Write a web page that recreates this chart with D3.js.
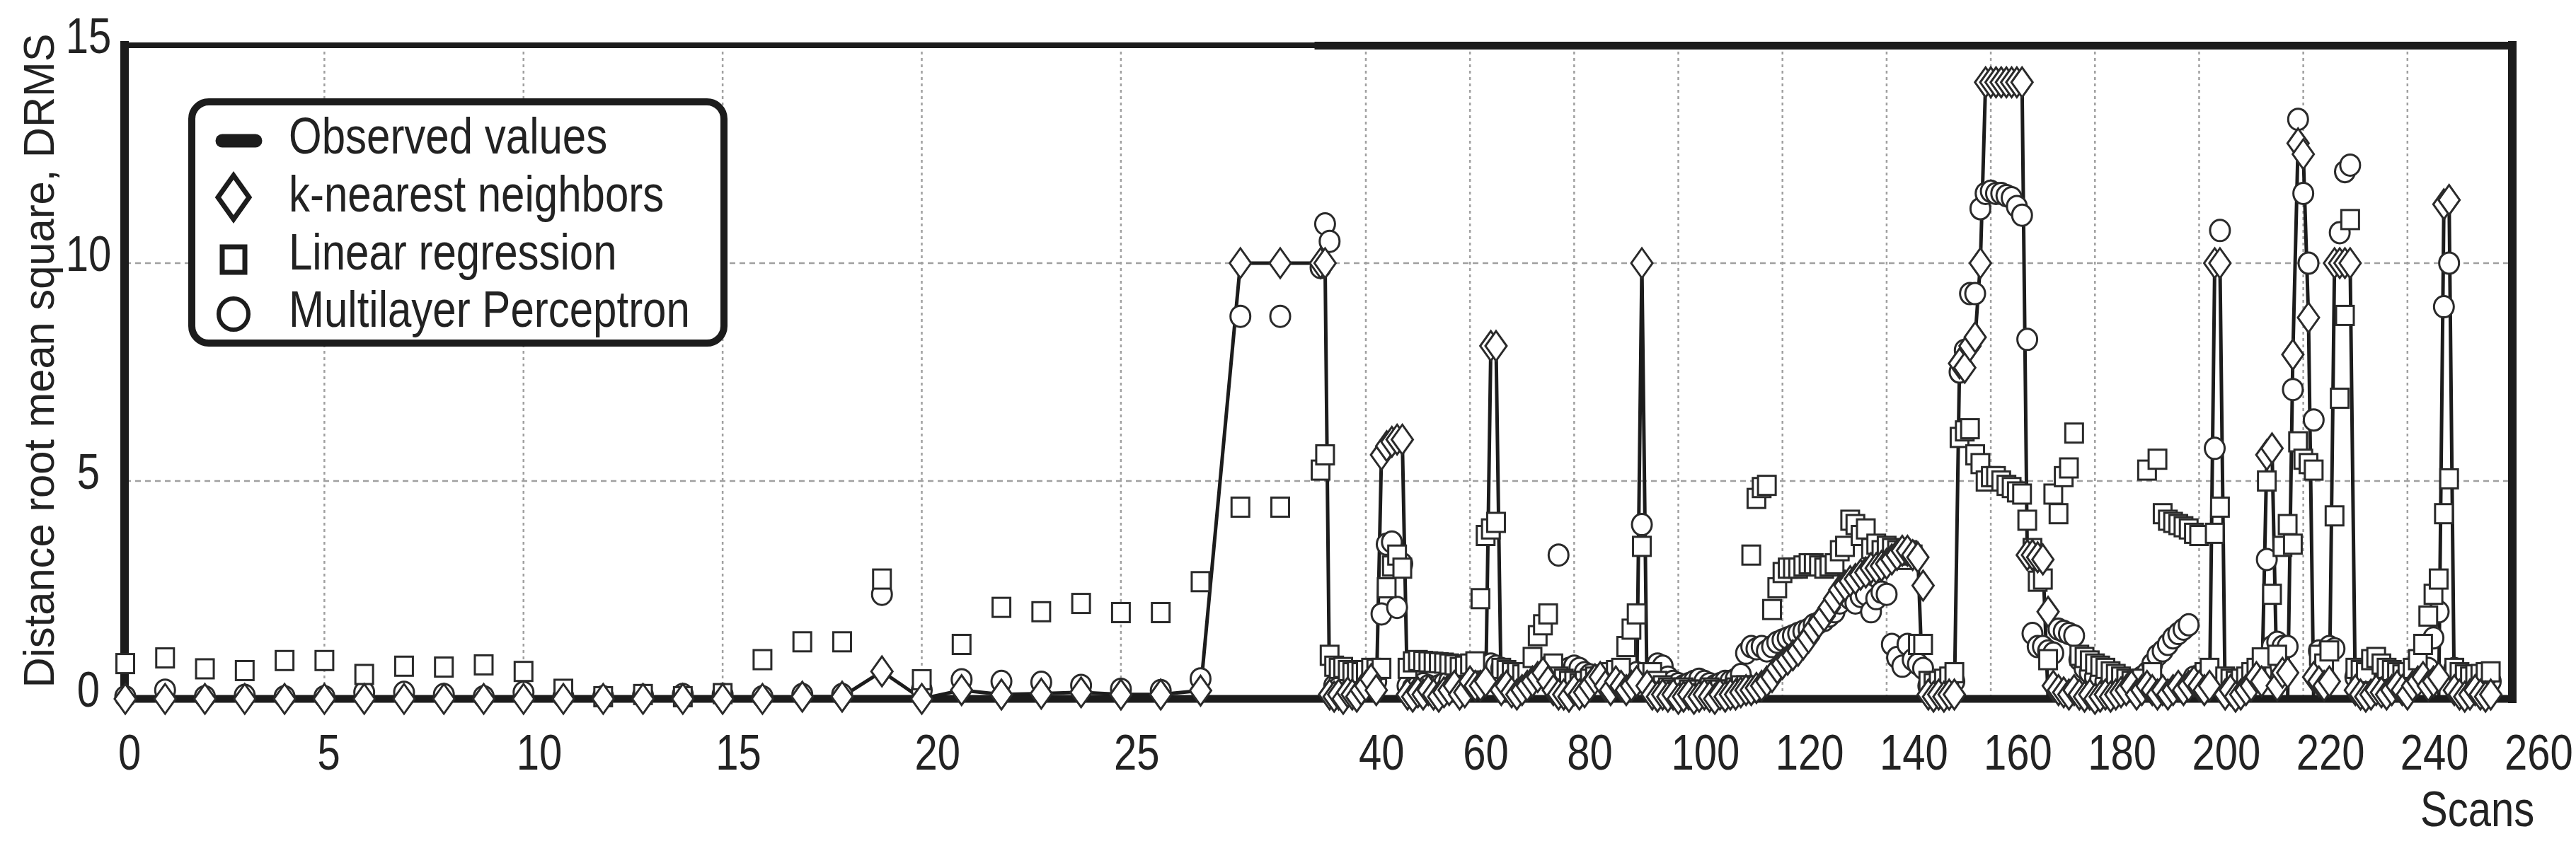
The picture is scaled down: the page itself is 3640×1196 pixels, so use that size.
<!DOCTYPE html>
<html><head><meta charset="utf-8">
<script src="https://cdnjs.cloudflare.com/ajax/libs/d3/7.8.5/d3.min.js"></script>
<style>
body{margin:0;background:#fff}
svg{display:block;background:#fff}
text{font-family:"Liberation Sans",Arial,Helvetica,sans-serif;fill:#222}
</style></head>
<body><svg id="c" width="3640" height="1196"></svg>
<script>
// ---- tick labels ----
const xTicks = [0,5,10,15,20,25,40,60,80,100,120,140,160,180,200,220,240,260];
const yTicks = [0,5,10,15];
const xLabel = "Scans";
const yLabel = "Distance root mean square, DRMS";
const legendLabels = ["Observed values","k-nearest neighbors","Linear regression","Multilayer Perceptron"];

// ---- series (index = scan number 0..256) ----
const observed = [
0,0,0,0,0,0,0,0,0,0,
0,0,0,0,0,0,0,0.05,0.05,0.63,
0,0.2,0.1,0.12,0.15,0.1,0.1,0.19,10,10,
10,10,0,0,0,0,0,0,0,0,
0,0,0,5.6,5.8,5.9,5.95,5.95,0,0,
0,0,0,0,0,0,0,0,0,0,
0,0,0,0,8.1,8.1,0,0,0,0,
0,0,0,0,0,0,0,0,0,0,
0,0,0,0,0,0,0,0,0,0,
0,0,0,10,0,0,0,0,0,0,
0,0,0,0,0,0,0,0,0,0,
0,0,0,0,0.1,0.1,0.2,0.3,0.4,0.6,
0.8,0.9,1.0,1.1,1.25,1.4,1.6,1.75,2.1,2.1,
2.3,2.5,2.6,2.7,2.75,2.85,2.9,3.0,3.0,3.05,
3.1,3.2,3.3,3.4,3.4,3.3,3.25,0,0,0,
0,0,0,0,7.7,7.6,8.1,8.3,10,14.15,
14.15,14.15,14.15,14.15,14.15,14.15,14.15,3.3,3.3,3.25,
3.2,0,0,0,0,0,0,0,0,0,
0,0,0,0,0,0,0,0,0,0,
0,0,0,0,0,0,0,0,0,0,
0,0,0,10,10,0,0,0,0,0,
0,0,0,5.6,5.75,0,0,0,7.9,12.75,
12.5,8.75,0,0,0,0,10,10,10,10,
0,0,0,0,0,0,0,0,0,0,
0,0,0,0,0,0,0,11.35,11.45,0,
0,0,0,0,0,0,0
];
const knn = [
0,0,0,0,0,0,0,0,0,0,
0,0,0,0,0,0,0,0.05,0.05,0.63,
0,0.2,0.1,0.12,0.15,0.1,0.1,0.19,10,10,
10,10,0.1,0.05,0.1,0,0.15,0.1,0.05,0.2,
0.3,0.45,0.2,5.6,5.8,5.9,5.95,5.95,0.1,0.05,
0.15,0.1,0.2,0.1,0.05,0.15,0.2,0.3,0.1,0.15,
0.4,0.3,0.3,0.4,8.1,8.1,0.2,0.3,0.15,0.1,
0.2,0.3,0.4,0.5,0.6,0.4,0.2,0.1,0.1,0.05,
0.2,0.1,0.15,0.3,0.45,0.5,0.3,0.2,0.4,0.3,
0.2,0.3,0.4,10,0.3,0.1,0.05,0.1,0.05,0.1,
0,0.05,0.1,0,0.05,0.1,0.05,0,0.1,0.05,
0.1,0.1,0.15,0.2,0.2,0.25,0.3,0.4,0.5,0.7,
0.8,0.9,1.0,1.1,1.25,1.4,1.6,1.75,1.9,2.1,
2.3,2.5,2.6,2.7,2.75,2.85,2.9,3.0,3.0,3.05,
3.1,3.2,3.3,3.4,3.4,3.3,3.25,2.6,0.1,0.05,
0.1,0.05,0.1,0.1,7.7,7.6,8.1,8.3,10,14.15,
14.15,14.15,14.15,14.15,14.15,14.15,14.15,3.3,3.3,3.25,
3.2,2.0,0.3,0.2,0.15,0.1,0.2,0.1,0.05,0.1,
0,0.05,0.1,0.05,0.1,0.15,0.2,0.3,0.1,0.2,
0.3,0.2,0.1,0.2,0.1,0.2,0.3,0.2,0.3,0.4,
0.3,0.2,0.3,10,10,0.1,0.2,0.05,0.1,0.2,
0.3,0.5,0.4,5.6,5.75,0.3,0.6,0.6,7.9,12.75,
12.5,8.75,0.5,0.4,0.3,0.4,10,10,10,10,
0.2,0.1,0.05,0.1,0.2,0.15,0.1,0.2,0.3,0.2,
0.1,0.3,0.4,0.5,0.3,0.4,0.5,11.35,11.45,0.2,
0.1,0.05,0.1,0.2,0.1,0.05,0.1
];
const linReg = [
0.81,0.94,0.69,0.65,0.88,0.88,0.56,0.75,0.73,0.78,
0.63,0.22,0.05,0.1,0.05,0.12,0.9,1.31,1.31,2.75,
0.44,1.25,2.1,2.0,2.19,1.98,1.98,2.69,4.4,4.4,
5.25,5.6,1.0,0.75,0.7,0.72,0.65,0.6,0.63,0.6,
0.65,0.7,0.68,0.7,2.55,3.05,3.3,3.0,0.7,0.85,
0.88,0.86,0.85,0.84,0.83,0.82,0.8,0.78,0.72,0.75,
0.8,0.85,2.3,3.75,3.9,4.05,0.7,0.65,0.6,0.6,
0.55,0.6,0.95,1.45,1.7,1.95,0.8,0.5,0.45,0.4,
0.4,0.35,0.4,0.45,0.5,0.5,0.55,0.6,0.65,0.7,
1.2,1.6,1.95,3.5,0.6,0.6,0.4,0.3,0.25,0.2,
0.2,0.25,0.2,0.15,0.2,0.2,0.25,0.2,0.2,0.2,
0.2,0.25,0.3,0.3,3.3,4.6,4.85,4.9,2.05,2.55,
2.9,3.0,3.0,3.0,3.05,3.1,3.1,3.05,3.0,3.05,
3.1,3.4,3.5,4.1,4.0,3.75,3.9,3.45,3.55,3.4,
3.5,3.45,3.4,3.2,3.4,3.3,1.25,1.25,0.4,0.35,
0.4,0.45,0.5,0.6,6.0,6.15,6.2,5.6,5.4,5.0,
5.1,5.1,5.0,4.9,4.85,4.75,4.7,4.1,3.45,2.7,
2.75,0.9,4.7,4.25,5.1,5.3,6.1,1.0,0.95,0.87,
0.8,0.75,0.7,0.62,0.56,0.5,0.45,0.4,0.4,0.45,
5.25,0.6,5.5,4.25,4.1,4.05,4.0,3.95,3.9,3.8,
3.75,0.6,0.7,3.8,4.4,0.5,0.45,0.4,0.45,0.5,
0.6,0.7,0.94,5.0,2.4,1.0,3.5,4.0,3.55,5.9,
5.5,5.4,5.25,1.0,0.8,1.1,4.2,6.9,8.8,11.0,
0.7,0.65,0.6,0.9,0.95,0.8,0.7,0.65,0.6,0.55,
0.6,0.7,0.9,1.25,1.9,2.4,2.75,4.25,5.05,0.7,
0.6,0.55,0.5,0.55,0.56,0.6,0.62
];
const mlp = [
0.05,0.2,0.05,0.08,0.05,0.05,0.15,0.15,0.1,0.05,
0.15,0.05,0.05,0.08,0.1,0.1,0.05,0.1,0.1,2.4,
0.2,0.44,0.4,0.38,0.31,0.22,0.19,0.46,8.78,8.78,
9.9,10.9,10.5,0.3,0.25,0.2,0.15,0.2,0.25,0.3,
0.35,0.5,0.4,1.95,3.55,3.6,2.1,3.1,0.3,0.25,
0.3,0.35,0.3,0.25,0.3,0.35,0.4,0.35,0.3,0.4,
0.45,0.5,0.6,0.7,0.8,0.75,0.7,0.6,0.5,0.45,
0.4,0.35,0.45,0.5,0.6,0.55,0.5,3.3,0.6,0.7,
0.75,0.7,0.6,0.55,0.5,0.45,0.4,0.45,0.5,0.5,
0.45,0.5,0.6,4.0,0.5,0.6,0.8,0.75,0.5,0.4,
0.35,0.3,0.35,0.4,0.45,0.4,0.35,0.3,0.35,0.4,
0.4,0.45,0.56,1.05,1.2,1.15,1.2,1.1,1.2,1.3,
1.35,1.4,1.45,1.5,1.55,1.6,1.7,1.75,1.8,1.9,
2.0,2.2,2.4,2.3,2.2,2.35,2.4,2.0,2.3,2.45,
2.4,1.25,0.95,0.75,1.25,0.9,0.8,0.7,0.3,0.25,
0.2,0.25,0.3,0.4,7.5,8.0,9.3,9.3,11.25,11.6,
11.65,11.6,11.6,11.55,11.5,11.3,11.1,8.25,1.5,1.2,
1.2,1.1,1.05,1.6,1.55,1.5,1.45,0.9,0.7,0.6,
0.5,0.45,0.4,0.35,0.3,0.3,0.3,0.35,0.4,0.5,
0.6,0.8,1.0,1.1,1.25,1.4,1.5,1.6,1.7,0.5,
0.4,0.3,0.4,5.75,10.75,0.4,0.35,0.3,0.35,0.4,
0.45,0.5,0.6,3.2,1.2,1.3,1.2,1.2,7.1,13.3,
11.6,10.0,6.4,1.1,1.0,1.2,1.15,10.7,12.1,12.25,
0.5,0.4,0.35,0.3,0.3,0.35,0.4,0.4,0.35,0.3,
0.35,0.4,0.5,0.6,0.7,1.4,2.0,9.0,10.0,0.7,
0.5,0.4,0.35,0.4,0.3,0.35,0.4
];

// ---- drawing ----
const svg = d3.select("#c");
const INK = "#1c1c1c";
// broken x axis: unit spacing for scans 0..29, compressed after
const x = d3.scaleLinear().domain([0,29,30,40,260]).range([177,1809,1866,1930,3549]);
const y = d3.scaleLinear().domain([0,15]).range([988,64]);

// grid
const grid = svg.append("g");
grid.selectAll("line.v").data(xTicks.filter(t => t > 0 && t < 260)).join("line")
  .attr("x1", d => x(d)).attr("x2", d => x(d)).attr("y1", y(15)).attr("y2", y(0))
  .attr("stroke", "#a0a0a0").attr("stroke-width", 2.5).attr("stroke-dasharray", "4,5");
grid.selectAll("line.h").data(yTicks.filter(t => t > 0 && t < 15)).join("line")
  .attr("x1", x(0)).attr("x2", x(260)).attr("y1", d => y(d)).attr("y2", d => y(d))
  .attr("stroke", "#a0a0a0").attr("stroke-width", 2.5).attr("stroke-dasharray", "8,6");

// frame
const frame = svg.append("g").attr("stroke", INK).attr("stroke-linecap", "square");
frame.append("line").attr("x1", x(0)).attr("x2", x(30) - 3).attr("y1", y(15)).attr("y2", y(15)).attr("stroke-width", 8);
frame.append("line").attr("x1", x(30) - 3).attr("x2", x(260)).attr("y1", y(15) + 0.5).attr("y2", y(15) + 0.5).attr("stroke-width", 11);
frame.append("line").attr("x1", x(0) - 1).attr("x2", x(0) - 1).attr("y1", y(15)).attr("y2", y(0)).attr("stroke-width", 12);
frame.append("line").attr("x1", x(260) + 1).attr("x2", x(260) + 1).attr("y1", y(15)).attr("y2", y(0)).attr("stroke-width", 12);
frame.append("line").attr("x1", x(0)).attr("x2", x(260)).attr("y1", y(0)).attr("y2", y(0)).attr("stroke-width", 11);

// observed line
svg.append("path").datum(observed)
  .attr("d", d3.line().x((d, i) => x(i)).y(d => y(d)))
  .attr("fill", "none").attr("stroke", INK).attr("stroke-width", 5).attr("stroke-linejoin", "round");

const mk = { fill: "#fff", stroke: "#2a2a2a", sw: 3 };
// MLP circles
svg.append("g").selectAll("ellipse").data(mlp).join("ellipse")
  .attr("cx", (d, i) => x(i)).attr("cy", d => y(d)).attr("rx", 14).attr("ry", 15)
  .attr("fill", mk.fill).attr("stroke", mk.stroke).attr("stroke-width", mk.sw);
// Linear regression squares
svg.append("g").selectAll("rect").data(linReg).join("rect")
  .attr("x", (d, i) => x(i) - 12.5).attr("y", d => y(d) - 13.5).attr("width", 25).attr("height", 27)
  .attr("fill", mk.fill).attr("stroke", mk.stroke).attr("stroke-width", mk.sw);
// kNN diamonds
svg.append("g").selectAll("path").data(knn).join("path")
  .attr("d", "M0,-21L15,0L0,21L-15,0Z")
  .attr("transform", (d, i) => `translate(${x(i)},${y(d)})`)
  .attr("fill", mk.fill).attr("stroke", mk.stroke).attr("stroke-width", mk.sw).attr("stroke-linejoin", "miter");

// axis tick labels
const tl = svg.append("g").attr("font-size", 58);
tl.selectAll("text.x").data(xTicks).join("text")
  .attr("transform", d => `translate(${x(d) - 10},1088) scale(1,1.2)`)
  .text(d => d);
tl.selectAll("text.y").data(yTicks).join("text")
  .attr("text-anchor", "middle")
  .attr("transform", d => `translate(125,${y(d) + 11}) scale(1,1.2)`)
  .text(d => d);
svg.append("text").attr("font-size", 58)
  .attr("transform", "translate(3420,1168) scale(1,1.2)").text(xLabel);
svg.append("text").attr("font-size", 62)
  .style("font-family", "'Liberation Sans Narrow','Liberation Sans',Arial,sans-serif")
  .attr("text-anchor", "middle").attr("textLength", 925).attr("lengthAdjust", "spacingAndGlyphs")
  .attr("transform", "translate(76,510) rotate(-90)").text(yLabel);

// legend
const lg = svg.append("g");
lg.append("rect").attr("x", 271).attr("y", 144).attr("width", 752).attr("height", 341).attr("rx", 24)
  .attr("fill", "#fff").attr("stroke", INK).attr("stroke-width", 10);
lg.append("line").attr("x1", 314).attr("x2", 361).attr("y1", 199).attr("y2", 199)
  .attr("stroke", INK).attr("stroke-width", 19).attr("stroke-linecap", "round");
lg.append("path").attr("d", "M0,-31L22,0L0,31L-22,0Z").attr("transform", "translate(330,279)")
  .attr("fill", "#fff").attr("stroke", INK).attr("stroke-width", 7);
lg.append("rect").attr("x", 330 - 16).attr("y", 367 - 18).attr("width", 32).attr("height", 36)
  .attr("fill", "#fff").attr("stroke", INK).attr("stroke-width", 7);
lg.append("ellipse").attr("cx", 330).attr("cy", 444).attr("rx", 21).attr("ry", 22)
  .attr("fill", "#fff").attr("stroke", INK).attr("stroke-width", 6);
const lgY = [217, 299, 381, 462];
lg.selectAll("text").data(legendLabels).join("text").attr("font-size", 60)
  .attr("transform", (d, i) => `translate(408,${lgY[i]}) scale(1,1.2)`)
  .text(d => d);
</script>
</body></html>
